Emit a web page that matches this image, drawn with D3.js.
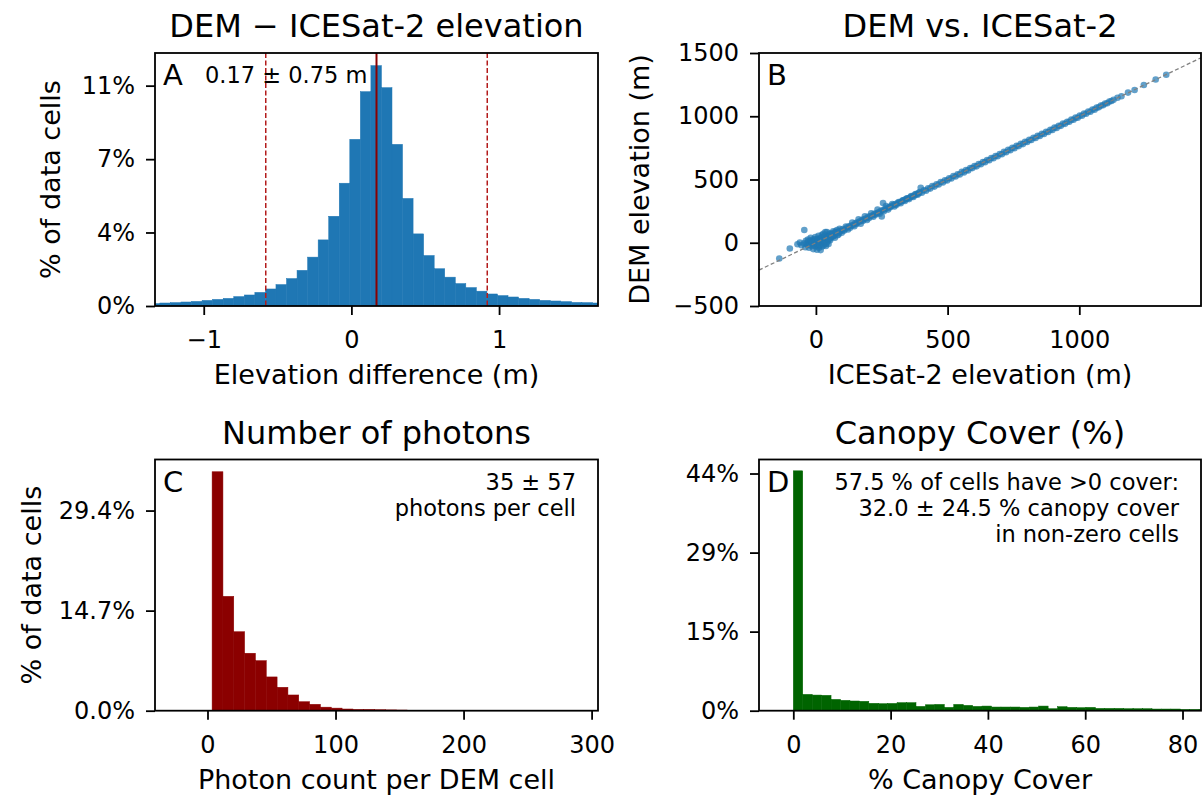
<!DOCTYPE html>
<meta charset="utf-8">
<script src="https://d3js.org/d3.v7.min.js"></script>
<style>
  body { margin: 0; background: #fff; }
  svg text { font-family: "DejaVu Sans", sans-serif; fill: #000; }
</style>
<div id="chart"></div>
<script>
// ---- A: DEM minus ICESat-2 elevation (histogram, % of data cells) ----
var diffBinStart = -1.368, diffBinWidth = 0.07143;
var diffPct = [0.12, 0.15, 0.17, 0.20, 0.23, 0.28, 0.33, 0.38, 0.47, 0.55, 0.68,
               0.85, 1.07, 1.37, 1.78, 2.44, 3.30, 4.48, 6.13, 8.32, 10.7, 12.0,
               10.9, 8.07, 5.37, 3.60, 2.52, 1.86, 1.44, 1.12, 0.92, 0.74, 0.60,
               0.52, 0.45, 0.38, 0.33, 0.28, 0.25, 0.22, 0.18, 0.17, 0.15];
var diffMean = 0.17, diffStd = 0.75;
var diffXTicks = [-1, 0, 1];
var diffYTicks = [0, 3.67, 7.33, 11];
var diffYLabels = ["0%", "4%", "7%", "11%"];

// ---- B: DEM vs ICESat-2 elevation (scatter, metres) [icesat, dem] ----
var elevPoints = [
  // low-elevation cloud
  [-139,-124],[-99,-45],[-61,2],[-44,101],[-70,-12],[-55,-20],[-45,-5],[-40,-35],[-38,15],
  [-32,-15],[-30,25],[-26,-40],[-22,5],[-20,40],[-16,-25],[-12,15],[-10,-50],[-8,30],
  [-5,-10],[-2,45],[0,-30],[2,10],[4,-55],[6,30],[8,-15],[10,55],[12,-40],[14,5],[16,35],
  [18,-58],[20,-5],[22,60],[24,-30],[26,20],[28,70],[30,-20],[32,40],[34,0],[36,85],
  [38,-25],[40,30],[42,85],[44,10],[46,55],[48,-10],[50,70],[54,20],[60,45],[66,90],
  [72,40],[80,100],[86,65],
  [-36,-8],[-28,8],[-24,-18],[-18,18],[-14,-5],[-6,12],[-4,-22],[0,25],[4,0],[8,18],
  [10,-28],[14,-12],[18,28],[20,12],[24,45],[28,-8],[30,15],[34,55],[36,25],[40,-5],
  [44,40],[48,25],[52,55],[56,35],[62,70],[68,55],[76,80],[84,85],[92,95],
  // main band
  [50,38],[58,75],[66,52],[74,88],[82,60],[90,110],[98,80],[106,95],[114,128],[122,105],
  [130,118],[138,160],[146,130],[154,148],[162,185],[170,150],[178,172],[186,210],
  [194,180],[202,195],[210,232],[218,205],[226,222],[234,262],[242,230],[250,207],
  [255,314],[258,250],[266,290],[274,262],[282,280],[290,305],[298,286],[306,300],
  [314,322],[322,312],[330,335],[338,330],[346,352],[354,345],[362,370],[370,362],
  [378,385],[386,380],[394,400],[398,434],[402,395],[410,415],[418,412],[426,430],
  [434,428],[442,448],[450,444],[458,462],[466,460],[474,480],[482,476],[490,494],
  [498,492],[506,510],[514,508],[522,528],[530,524],[538,542],[546,540],[554,560],
  [562,556],[570,574],[578,572],[586,590],[594,590],[602,606],[610,604],[618,622],
  [626,620],[634,638],[642,637],[650,654],[658,652],[666,670],[674,668],[682,686],
  [690,684],[698,702],[706,700],[714,718],[722,716],[730,734],[738,732],[746,750],
  [754,748],[762,766],[770,764],[778,782],[786,780],[794,798],[802,796],[810,813],
  [818,812],[826,830],[834,828],[842,846],[850,844],[858,861],[866,860],[874,878],
  [882,876],[890,893],[898,892],[906,910],[914,908],[922,925],[930,924],[938,942],
  [946,940],[954,957],[962,956],[970,973],[978,972],[986,989],[994,988],[1002,1005],
  [1010,1004],[1018,1021],[1026,1020],[1034,1037],[1042,1036],[1050,1053],[1058,1052],
  [1066,1068],[1074,1071],[1082,1084],[1090,1087],[1098,1100],[1106,1103],[1114,1116],
  [1122,1120],[1130,1131],
  [54,50],[62,62],[70,68],[78,82],[86,80],[94,92],[102,108],[110,105],[118,120],
  [126,130],[134,135],[142,140],[150,155],[158,160],[166,168],[174,180],[182,185],
  [190,192],[198,205],[206,210],[214,215],[222,228],[230,232],[238,240],[246,250],
  [254,258],[262,265],[270,275],[278,282],[286,290],[294,298],[302,305],[310,312],
  [318,320],[326,328],[334,338],[342,345],[350,352],[358,360],[366,368],[374,376],
  [382,384],[390,392],
  // sparse high end
  [1145,1146],[1160,1158],[1185,1187],[1210,1208],[1245,1247],[1290,1290],[1330,1328]
];
var elevXTicks = [0, 500, 1000];
var elevYTicks = [-500, 0, 500, 1000, 1500];

// ---- C: photons per DEM cell (histogram) ----
var photonBinStart = 3.6, photonBinWidth = 8.46;
var photonPct = [35.1, 16.8, 11.6, 8.44, 7.35, 4.96, 3.44, 2.31, 1.32, 0.94,
                 0.52, 0.38, 0.25, 0.20, 0.20, 0.15, 0.12, 0.10, 0.05];
var photonXTicks = [0, 100, 200, 300];
var photonYTicks = [0, 14.7, 29.4];
var photonYLabels = ["0.0%", "14.7%", "29.4%"];

// ---- D: canopy cover (histogram) ----
var canopyBinStart = 0, canopyBinWidth = 1.94;
var canopyPct = [44.5, 3.03, 2.90, 2.85, 2.10, 1.92, 1.80, 1.74, 1.37, 1.30, 1.35,
                 1.49, 1.49, 0.80, 1.10, 1.17, 0.62, 1.17, 0.99, 0.80, 0.86, 0.68,
                 0.68, 0.68, 0.62, 0.68, 0.86, 0.37, 0.74, 0.62, 0.56, 0.62, 0.43,
                 0.43, 0.43, 0.37, 0.37, 0.37, 0.31, 0.31, 0.31, 0.25, 0.25, 0.20];
var canopyXTicks = [0, 20, 40, 60, 80];
var canopyYTicks = [0, 14.67, 29.33, 44];
var canopyYLabels = ["0%", "15%", "29%", "44%"];

var FS_TICK = 24, FS_LABEL = 27, FS_TITLE = 32, FS_LETTER = 29, FS_NOTE = 22.5;

var svg = d3.select("#chart").append("svg")
    .attr("width", 1203).attr("height", 796);
svg.append("rect").attr("width", 1203).attr("height", 796).attr("fill", "#fff");

// axes boxes (pixels)
var boxA = { l: 155, t: 53, r: 598, b: 306 },
    boxB = { l: 759, t: 53, r: 1201, b: 306 },
    boxC = { l: 155, t: 459.5, r: 598, b: 710.7 },
    boxD = { l: 759, t: 459.5, r: 1201, b: 710.7 };

function scales(box, xd, yd) {
  return {
    x: d3.scaleLinear().domain(xd).range([box.l, box.r]),
    y: d3.scaleLinear().domain(yd).range([box.b, box.t])
  };
}

var clipN = 0;
function clipped(box) {
  var id = "clip" + (clipN++);
  svg.append("clipPath").attr("id", id).append("rect")
    .attr("x", box.l).attr("y", box.t)
    .attr("width", box.r - box.l).attr("height", box.b - box.t);
  return svg.append("g").attr("clip-path", "url(#" + id + ")");
}

function drawHist(g, sc, start, width, values, color) {
  g.selectAll("rect.bar").data(values).join("rect")
    .attr("class", "bar")
    .attr("x", function(d, i) { return sc.x(start + i * width); })
    .attr("width", function(d, i) { return sc.x(start + (i + 1) * width) - sc.x(start + i * width); })
    .attr("y", function(d) { return sc.y(d); })
    .attr("height", function(d) { return sc.y(0) - sc.y(d); })
    .attr("fill", color)
    .attr("stroke", color)
    .attr("stroke-width", 0.5);
}

function drawAxes(sc, box, xTicks, yTicks, yLabels) {
  var gx = svg.append("g").attr("transform", "translate(0," + box.b + ")")
    .call(d3.axisBottom(sc.x).tickValues(xTicks).tickFormat(d3.format("d"))
      .tickSize(9).tickPadding(16).tickSizeOuter(0));
  var gy = svg.append("g").attr("transform", "translate(" + box.l + ",0)")
    .call(d3.axisLeft(sc.y).tickValues(yTicks)
      .tickFormat(function(d, i) { return yLabels ? yLabels[i] : d3.format("d")(d); })
      .tickSize(9).tickPadding(11).tickSizeOuter(0));
  [gx, gy].forEach(function(g) {
    g.attr("font-size", null).attr("font-family", null);
    g.select(".domain").remove();
    g.selectAll(".tick line").attr("stroke", "#000").attr("stroke-width", 1.8);
    g.selectAll(".tick text").attr("font-size", FS_TICK);
  });
  svg.append("rect")
    .attr("x", box.l).attr("y", box.t)
    .attr("width", box.r - box.l).attr("height", box.b - box.t)
    .attr("fill", "none").attr("stroke", "#000").attr("stroke-width", 1.8);
}

function labels(box, title, xLabel, yLabel, yLabelX, letter) {
  var cx = (box.l + box.r) / 2;
  svg.append("text").attr("x", cx).attr("y", box.t - 16)
    .attr("text-anchor", "middle").attr("font-size", FS_TITLE).text(title);
  svg.append("text").attr("x", cx).attr("y", box.b + 78)
    .attr("text-anchor", "middle").attr("font-size", FS_LABEL).text(xLabel);
  if (yLabel) {
    svg.append("text")
      .attr("transform", "translate(" + yLabelX + "," + (box.t + box.b) / 2 + ") rotate(-90)")
      .attr("text-anchor", "middle").attr("font-size", FS_LABEL).text(yLabel);
  }
  svg.append("text").attr("x", box.l + 8).attr("y", box.t + 32)
    .attr("font-size", FS_LETTER).text(letter);
}

function note(x, y, lines, anchor) {
  lines.forEach(function(s, i) {
    svg.append("text").attr("x", x).attr("y", y + i * 26)
      .attr("text-anchor", anchor).attr("font-size", FS_NOTE).text(s);
  });
}

// ---------- Panel A ----------
var scA = scales(boxA, [diffMean - 2 * diffStd, diffMean + 2 * diffStd], [0, 12.63]);
var gA = clipped(boxA);
drawHist(gA, scA, diffBinStart, diffBinWidth, diffPct, "#1f77b4");
gA.append("line")
  .attr("x1", scA.x(diffMean)).attr("x2", scA.x(diffMean))
  .attr("y1", boxA.t).attr("y2", boxA.b)
  .attr("stroke", "#8b0000").attr("stroke-width", 2);
[diffMean - diffStd, diffMean + diffStd].forEach(function(v) {
  gA.append("line")
    .attr("x1", scA.x(v)).attr("x2", scA.x(v))
    .attr("y1", boxA.t).attr("y2", boxA.b)
    .attr("stroke", "#b31b1b").attr("stroke-width", 1.5)
    .attr("stroke-dasharray", "5,2.5");
});
drawAxes(scA, boxA, diffXTicks, diffYTicks, diffYLabels);
labels(boxA, "DEM \u2212 ICESat-2 elevation", "Elevation difference (m)", "% of data cells", 60, "A");
note(boxA.l + 50, boxA.t + 30, ["0.17 \u00b1 0.75 m"], "start");

// ---------- Panel B ----------
var scB = scales(boxB, [-216, 1462], [-500, 1500]);
var gB = clipped(boxB);
gB.selectAll("circle").data(elevPoints).join("circle")
  .attr("cx", function(d) { return scB.x(d[0]); })
  .attr("cy", function(d) { return scB.y(d[1]); })
  .attr("r", 3.3)
  .attr("fill", "#1f77b4")
  .attr("fill-opacity", 0.7);
gB.append("line")
  .attr("x1", scB.x(-216)).attr("y1", scB.y(-216))
  .attr("x2", scB.x(1462)).attr("y2", scB.y(1462))
  .attr("stroke", "#808080").attr("stroke-width", 1.3)
  .attr("stroke-dasharray", "4,2.5");
drawAxes(scB, boxB, elevXTicks, elevYTicks, null);
labels(boxB, "DEM vs. ICESat-2", "ICESat-2 elevation (m)", "DEM elevation (m)", 649, "B");

// ---------- Panel C ----------
var scC = scales(boxC, [-41, 305], [0, 36.9]);
var gC = clipped(boxC);
drawHist(gC, scC, photonBinStart, photonBinWidth, photonPct, "#8b0000");
drawAxes(scC, boxC, photonXTicks, photonYTicks, photonYLabels);
labels(boxC, "Number of photons", "Photon count per DEM cell", "% of data cells", 41, "C");
note(boxC.r - 22, boxC.t + 30, ["35 \u00b1 57", "photons per cell"], "end");

// ---------- Panel D ----------
var scD = scales(boxD, [-7.05, 83.8], [0, 46.6]);
var gD = clipped(boxD);
drawHist(gD, scD, canopyBinStart, canopyBinWidth, canopyPct, "#006400");
drawAxes(scD, boxD, canopyXTicks, canopyYTicks, canopyYLabels);
labels(boxD, "Canopy Cover (%)", "% Canopy Cover", null, 0, "D");
note(boxD.r - 22, boxD.t + 30,
  ["57.5 % of cells have >0 cover:", "32.0 \u00b1 24.5 % canopy cover", "in non-zero cells"], "end");
</script>
